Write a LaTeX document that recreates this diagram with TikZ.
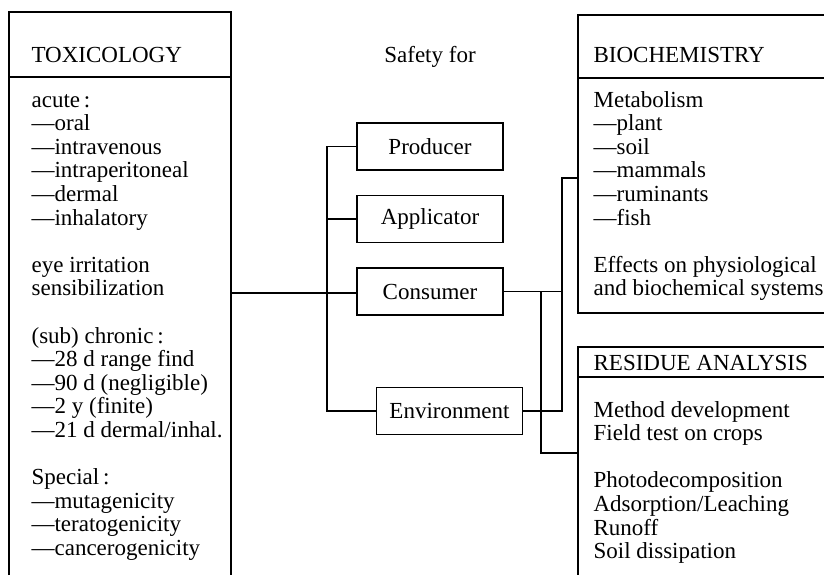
\documentclass[tikz,border=0pt]{standalone}
\usepackage{fontspec}
\setmainfont{Liberation Serif}
\usepackage{tikz}

\tikzset{
  box/.style={draw,minimum width=73pt,minimum height=23.5pt,inner sep=0pt},
  txt/.style={anchor=base west,inner sep=0pt}
}

\begin{document}
\begin{tikzpicture}[x=0.5pt,y=-0.5pt,line width=0.6pt,font=\fontsize{11.5}{11.8}\selectfont]
\useasboundingbox (0,0) rectangle (824,575);

% toxicology column
\draw (9,575) -- (9,12) -- (231,12) -- (231,575);
\draw (9,77) -- (231,77);
\node[txt] (tox) at (31,62) {TOXICOLOGY};
\foreach \t [count=\i from 0] in {acute\,:,---oral,---intravenous,---intraperitoneal,---dermal,---inhalatory,{},
    eye irritation,sensibilization,{},(sub) chronic\,:,---28 d range find,---90 d (negligible),---2 y (finite),
    ---21 d dermal/inhal.,{},Special\,:,---mutagenicity,---teratogenicity,---cancerogenicity}
  \node[txt] (tl\i) at (31,107+23.6*\i) {\t};

% safety for
\node[anchor=base,inner sep=0pt] (safety) at (430,62) {Safety for};
\node[box] (prod) at (430,146.5) {Producer};
\node[box] (appl) at (430,219) {Applicator};
\node[box] (cons) at (430,291.5) {Consumer};
\node[box] (env) at (449.5,411) {Environment};

% biochemistry column
\draw (824,15) -- (578,15) -- (578,313) -- (824,313);
\draw (578,78) -- (824,78);
\node[txt] (bio) at (593,62) {BIOCHEMISTRY};
\foreach \t [count=\i from 0] in {Metabolism,---plant,---soil,---mammals,---ruminants,---fish,{},
    Effects on physiological,and biochemical systems}
  \node[txt] (bl\i) at (593,107+23.6*\i) {\t};

% residue column
\draw (824,347) -- (578,347) -- (578,575);
\draw (578,377) -- (824,377);
\node[txt] (res) at (593,370) {RESIDUE ANALYSIS};
\foreach \t [count=\i from 0] in {Method development,Field test on crops,{},
    Photodecomposition,Adsorption/Leaching,Runoff,Soil dissipation}
  \node[txt] (rl\i) at (593,417+23.6*\i) {\t};

% connectors
\coordinate (toxR) at (231,293);
\coordinate (lbus) at (327,0);
\coordinate (rbusA) at (541,0);
\coordinate (rbusB) at (562,0);
\coordinate (bioL) at (578,178);
\coordinate (resL) at (578,453);

\draw (toxR) -- (toxR -| cons.west);
\draw (prod.west) -- (prod.west -| lbus) |- (env.west);
\draw (appl.west) -- (appl.west -| lbus);
\draw (cons.east) -- (cons.east -| rbusB);
\draw (env.east) -- (env.east -| rbusB) |- (bioL);
\draw (cons.east -| rbusA) |- (resL);

\end{tikzpicture}
\end{document}
